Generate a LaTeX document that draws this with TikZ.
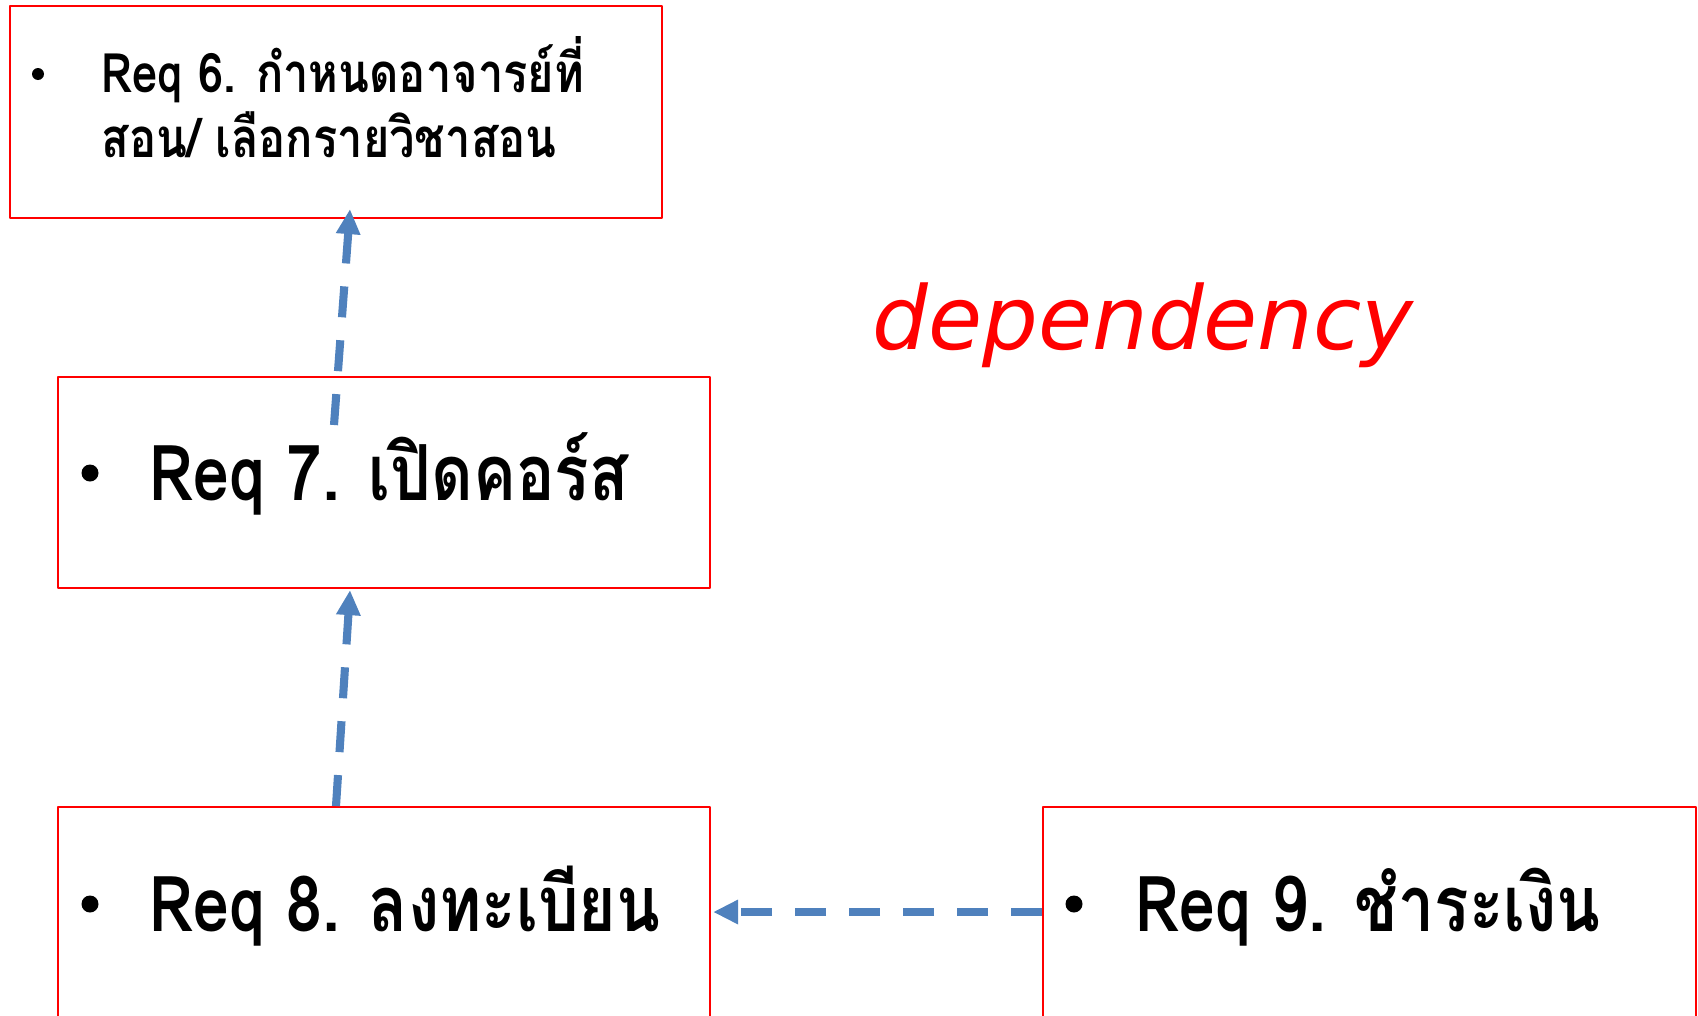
\documentclass[tikz,border=0pt]{standalone}
\usepackage{fontspec}
\usetikzlibrary{arrows.meta,calc}
\newfontfamily\thaifont[Script=Thai,FakeStretch=0.83]{Loma}
\newfontfamily\depfont[ItalicFont={DejaVu Sans Oblique}]{DejaVu Sans}
\definecolor{reqred}{RGB}{255,0,0}
\definecolor{depblue}{RGB}{79,129,189}
\tikzset{
	reqbox/.style={draw=reqred,line width=0.6pt,minimum width=6.52cm,anchor=north west,inner sep=0pt},
	reqtext/.style={anchor=base west,inner sep=0pt,font=\thaifont\bfseries\fontsize{22}{26}\selectfont},
	smalltext/.style={reqtext,font=\thaifont\bfseries\fontsize{15.5}{19}\selectfont},
	deparrow/.style={depblue,line width=2.3pt,dash pattern=on 0.31cm off 0.23cm,-{Triangle[width=0.23cm,length=0.25cm]}}
}
\begin{document}
\begin{tikzpicture}[line join=round]
	\path[use as bounding box,clip] (0,0) rectangle (16.98,10.15);
	% boxes
	\node[reqbox,minimum height=2.12cm] (r6) at (0.09,10.10) {};
	\node[reqbox,minimum height=2.11cm] (r7) at (0.57,6.39) {};
	\node[reqbox,minimum height=2.60cm] (r8) at (0.57,2.09) {};
	\node[reqbox,minimum height=2.60cm,minimum width=6.53cm] (r9) at (10.42,2.09) {};
	% texts
	\node[smalltext] (t6) at (1.01,9.22) {Req 6. กำหนดอาจารย์ที่};
	\node[smalltext] (t6b) at (1.01,8.58) {สอน/ เลือกรายวิชาสอน};
	\node[reqtext] (t7) at (1.49,5.15) {Req 7. เปิดคอร์ส};
	\node[reqtext] (t8) at (1.49,0.84) {Req 8. ลงทะเบียน};
	\node[reqtext] (t9) at (11.35,0.84) {Req 9. ชำระเงิน};
	\foreach \x/\y/\r in {0.38/9.41/0.06,0.90/5.42/0.085,0.90/1.11/0.085,10.74/1.11/0.085}
	\fill (\x,\y) circle (\r);
	\node[anchor=base west,inner sep=0pt,text=reqred,font=\depfont\itshape\fontsize{25}{30}\selectfont] (dep) at (8.72,6.66) {dependency};
	% dependencies
	\draw[deparrow] ($(r8.north west)+(2.79,0)$) -- ($(r7.south west)+(2.93,-0.01)$);
	\draw[deparrow] ($(r7.north west)+(2.77,-0.49)$) -- ($(r6.south west)+(3.41,0.10)$);
	\draw[deparrow] ($(r9.north west)+(0,-1.06)$) -- ($(r8.north east)+(0.02,-1.06)$);
\end{tikzpicture}
\end{document}
